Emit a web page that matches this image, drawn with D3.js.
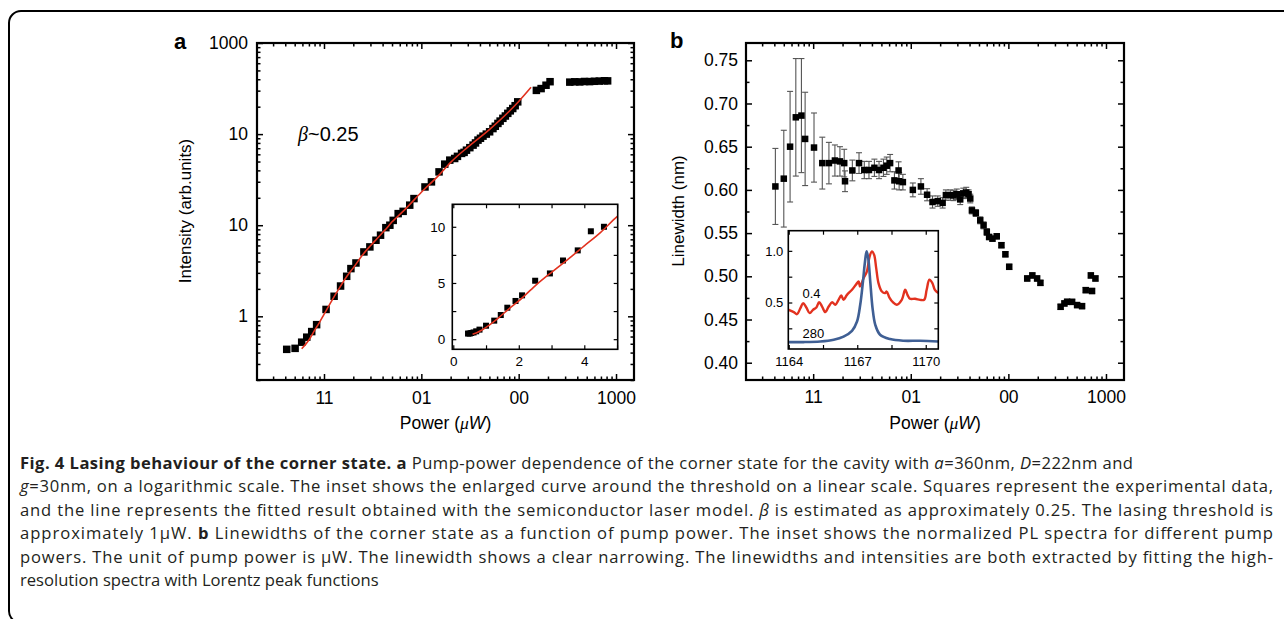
<!DOCTYPE html>
<html><head><meta charset="utf-8">
<script src="https://cdn.jsdelivr.net/npm/d3@7"></script>
<style>body{margin:0;background:#fff}svg{display:block}</style>
</head><body>
<svg id="c" width="1284" height="619"></svg>
<script>
// ---------------- DATA ----------------
// Panel a: pump power (µW) vs intensity (arb. units)
const powerA = [0.414,0.505,0.59,0.665,0.748,0.84,1.05,1.27,1.48,1.71,1.89,2.13,2.57,2.96,3.42,3.81,4.32,4.75,5.14,5.78,6.5,7.6,8.4,10.9,12.7,15.2,17.4,19.6,22.0,23.5,25.9,27.5,29.1,31.5,34.0,36.0,38.2,40.5,43.0,46.5,50.3,54.4,57.5,61.2,64.5,68.8,73,77.3,82,86.9,92,97.8,152,170,191,210,335,377,424,475,535,600,673,760,820];
const intensityA = [0.434,0.445,0.52,0.59,0.68,0.81,1.19,1.66,2.15,2.75,3.34,3.85,5.09,5.78,6.84,7.77,9.4,10.0,11.3,13.4,14.2,16.6,19.6,26.3,29.9,38.5,46.8,51.8,54,57,61.4,63,66.6,71,75.7,80,85.9,90,95,100,106,115,122,131,139,149,158,169,180,191,205,226,302,316,344,376,372,375,374,378,377,380,382,385,384];
// fitted semiconductor-laser model curve
const fitPower = [0.59,0.7,0.8,0.9,1.0,1.2,1.4,1.7,2.0,2.5,3.0,3.5,4.0,4.5,5.0,5.5,7,10,15,20,30,50,80,100,134];
const fitIntensity = [0.44,0.55,0.7,0.86,1.05,1.48,1.95,2.7,3.4,4.75,5.95,7.1,8.3,9.5,10.9,12.0,15.4,23,35,49,72,112,178,228,326];
// inset a (linear scale)
const insetPower = [0.45,0.5,0.55,0.62,0.7,0.8,1.0,1.25,1.45,1.65,1.9,2.1,2.5,2.95,3.35,3.8,4.2,4.6];
const insetIntensity = [0.5,0.5,0.55,0.6,0.7,0.85,1.2,1.65,2.15,2.8,3.4,3.9,5.2,5.85,7.0,7.9,9.6,10.0];

// Panel b: pump power (µW) vs linewidth (nm) with error
const powerB = [0.41,0.50,0.58,0.664,0.758,0.827,1.02,1.24,1.45,1.67,1.88,2.08,2.12,2.52,2.95,3.34,3.73,4.24,4.73,5.25,5.67,6.14,6.8,7.5,7.6,8.3,10.5,12.7,14.7,16.7,18.9,21.2,22.9,25.4,27.4,29.6,32.1,34.5,37.0,39.1,40.7,42.3,46.4,51.5,55.7,60.1,63.5,68.7,76,84.9,93.2,102,156,176,197,213,343,375,400,450,506,569,620,700,720,780];
const linewidthB = [0.604,0.613,0.650,0.684,0.686,0.659,0.649,0.631,0.631,0.634,0.633,0.631,0.610,0.6225,0.631,0.623,0.623,0.6256,0.623,0.6256,0.628,0.631,0.611,0.6225,0.610,0.609,0.600,0.604,0.5944,0.586,0.587,0.585,0.594,0.594,0.5936,0.595,0.589,0.596,0.597,0.595,0.590,0.5763,0.5733,0.5648,0.559,0.5513,0.5455,0.5436,0.5463,0.536,0.5255,0.511,0.4975,0.501,0.4975,0.4924,0.4647,0.4686,0.4705,0.4704,0.4667,0.4655,0.484,0.501,0.483,0.4975];
const linewidthErr = [0.044,0.056,0.064,0.068,0.066,0.054,0.040,0.030,0.024,0.018,0.017,0.016,0.012,0.012,0.012,0.010,0.010,0.010,0.010,0.010,0.010,0.010,0.010,0.010,0.010,0.009,0.008,0.009,0.007,0.007,0.006,0.006,0.006,0.006,0.006,0.006,0.006,0.006,0.006,0.005,0.005,0.004,0.004,0.004,0.004,0.004,0.003,0.003,0.003,0.003,0.003,0.003,0.003,0.003,0.003,0.003,0.003,0.003,0.003,0.003,0.003,0.003,0.003,0.003,0.003,0.003];

// inset b: normalized PL spectra
const blueWl = [1163.98,1164.65,1165.38,1165.97,1166.4,1166.77,1166.99,1167.13,1167.25,1167.34,1167.41,1167.48,1167.57,1167.67,1167.79,1168.0,1168.44,1169.02,1169.75,1170.55];
const blueVal = [0.117,0.117,0.123,0.14,0.17,0.226,0.316,0.478,0.703,0.897,0.995,0.93,0.703,0.446,0.284,0.188,0.146,0.13,0.13,0.123];
const redWl = [1163.98,1164.22,1164.36,1164.51,1164.63,1164.77,1164.92,1165.06,1165.21,1165.33,1165.46,1165.6,1165.75,1165.9,1166.04,1166.18,1166.3,1166.4,1166.55,1166.77,1166.96,1167.06,1167.12,1167.28,1167.42,1167.54,1167.64,1167.74,1167.83,1167.93,1168.08,1168.22,1168.29,1168.41,1168.56,1168.73,1168.95,1169.1,1169.2,1169.31,1169.53,1169.75,1169.93,1170.04,1170.16,1170.29,1170.4,1170.55];
const redVal = [0.43,0.407,0.387,0.445,0.494,0.452,0.397,0.429,0.452,0.503,0.461,0.407,0.461,0.503,0.478,0.526,0.568,0.526,0.574,0.623,0.678,0.703,0.655,0.736,0.8,0.945,0.995,0.961,0.833,0.688,0.606,0.591,0.606,0.548,0.503,0.478,0.526,0.623,0.574,0.536,0.536,0.526,0.526,0.623,0.72,0.688,0.623,0.591];

// tick values / labels (as printed in the figure)
const xMajorTicks = [1,10,100,1000];
const xMajorLabels = ["11","01","00","1000"];
const yMajorTicksA = [1,10,100,1000];
const yMajorLabelsA = ["1","10","10","1000"];
const yMajorTicksB = [0.40,0.45,0.50,0.55,0.60,0.65,0.70,0.75];
const yMinorTicksB = [0.425,0.475,0.525,0.575,0.625,0.675,0.725];
const insetAXMajor = [0,2,4], insetAXMinor = [1,3,5];
const insetAYMajor = [0,5,10], insetAYMinor = [2.5,7.5];
const insetBXMajor = [1164,1167,1170], insetBXMinor = [1165.5,1168.5];
const insetBYMajor = [0.5,1.0], insetBYMinor = [0.25,0.75];
const insetBLabels = ["0.4","280"];

const captionLines = [
 [["Fig. 4 Lasing behaviour of the corner state.","b"],[" ",""],["a","b"],[" Pump-power dependence of the corner state for the cavity with ",""],["a","i"],["=360nm, ",""],["D","i"],["=222nm and",""]],
 [["g","i"],["=30nm, on a logarithmic scale. The inset shows the enlarged curve around the threshold on a linear scale. Squares represent the experimental data,",""]],
 [["and the line represents the fitted result obtained with the semiconductor laser model. ",""],["β","i"],[" is estimated as approximately 0.25. The lasing threshold is",""]],
 [["approximately 1μW. ",""],["b","b"],[" Linewidths of the corner state as a function of pump power. The inset shows the normalized PL spectra for different pump",""]],
 [["powers. The unit of pump power is μW. The linewidth shows a clear narrowing. The linewidths and intensities are both extracted by fitting the high-",""]],
 [["resolution spectra with Lorentz peak functions",""]]
];

// ---------------- DRAWING ----------------
const FONT = "'Liberation Sans', Arial, Helvetica, sans-serif";
const svg = d3.select("#c");

// outer rounded frame
svg.append("rect").attr("x",9).attr("y",11).attr("width",1320).attr("height",612)
  .attr("rx",12).attr("ry",12).attr("fill","none").attr("stroke","#000").attr("stroke-width",2);

function drawAxes(g, x, y, w, h, o) {
  const mk = (axisFn, scale, vals, size, fmt, pad, tr) => {
    const a = axisFn(scale).tickValues(vals).tickSizeInner(-size).tickSizeOuter(0).tickPadding(pad)
      .tickFormat(fmt || (() => ""));
    const gg = g.append("g").attr("transform", tr).call(a);
    gg.select(".domain").remove();
    gg.selectAll(".tick line").attr("stroke","#000").attr("stroke-width", o.tickW);
    gg.selectAll("text").attr("font-family",FONT).attr("font-size",o.fs).attr("fill","#000");
    return gg;
  };
  const xl = (d,i) => o.xLabels ? o.xLabels[i] : d;
  const yl = (d,i) => o.yLabels ? o.yLabels[i] : d;
  mk(d3.axisBottom, x, o.xMaj, o.maj, xl, o.xPad, `translate(0,${h})`);
  mk(d3.axisBottom, x, o.xMin, o.min, null, 0, `translate(0,${h})`);
  mk(d3.axisTop, x, o.xMaj, o.maj, null, 0, `translate(0,0)`);
  mk(d3.axisTop, x, o.xMin, o.min, null, 0, `translate(0,0)`);
  mk(d3.axisLeft, y, o.yMaj, o.maj, o.yFmt || yl, o.yPad, `translate(0,0)`);
  mk(d3.axisLeft, y, o.yMin, o.min, null, 0, `translate(0,0)`);
  mk(d3.axisRight, y, o.yMaj, o.maj, null, 0, `translate(${w},0)`);
  mk(d3.axisRight, y, o.yMin, o.min, null, 0, `translate(${w},0)`);
  g.append("rect").attr("width",w).attr("height",h).attr("fill","none")
    .attr("stroke","#000").attr("stroke-width",o.frameW);
}

function logMinor(scale, majors) {
  return scale.ticks().filter(v => !majors.some(m => Math.abs(m - v) / v < 1e-9));
}

function squares(g, x, y, xs, ys, s) {
  g.selectAll(null).data(xs).enter().append("rect")
    .attr("x", (d,i) => x(d) - s/2).attr("y", (d,i) => y(ys[i]) - s/2)
    .attr("width", s).attr("height", s).attr("fill", "#000");
}

// ===== Panel a =====
const A = {l:257, t:43, w:377, h:337};
const gA = svg.append("g").attr("transform",`translate(${A.l},${A.t})`);
const xA = d3.scaleLog().domain([0.205,1530]).range([0,A.w]);
const yA = d3.scaleLog().domain([0.2,1000]).range([A.h,0]);
gA.append("clipPath").attr("id","clipA").append("rect").attr("width",A.w).attr("height",A.h);
const dA = gA.append("g").attr("clip-path","url(#clipA)");
squares(dA, xA, yA, powerA, intensityA, 7.5);
dA.append("path").datum(fitPower.map((p,i)=>[p,fitIntensity[i]]))
  .attr("fill","none").attr("stroke","#e2321f").attr("stroke-width",1.6)
  .attr("d", d3.line().x(d=>xA(d[0])).y(d=>yA(d[1])).curve(d3.curveMonotoneX));
drawAxes(gA, xA, yA, A.w, A.h, {
  xMaj:xMajorTicks, xLabels:xMajorLabels, xMin:logMinor(xA,xMajorTicks),
  yMaj:yMajorTicksA, yLabels:yMajorLabelsA, yMin:logMinor(yA,yMajorTicksA),
  maj:6, min:3.5, fs:17.5, xPad:12, yPad:9, tickW:1.5, frameW:2.2
});
// beta annotation
const beta = gA.append("text").attr("x", 41).attr("y", 98).attr("font-family",FONT).attr("font-size",20);
beta.append("tspan").attr("font-family","'Liberation Serif','Times New Roman',serif").attr("font-style","italic").text("β");
beta.append("tspan").text("~0.25");

// inset a
const IA = {l:452.3, t:204.3, w:165.4, h:145};
const gIA = svg.append("g").attr("transform",`translate(${IA.l},${IA.t})`);
gIA.append("rect").attr("width",IA.w).attr("height",IA.h).attr("fill","#fff");
const xIA = d3.scaleLinear().domain([-0.03,5.02]).range([0,IA.w]);
const yIA = d3.scaleLinear().domain([-0.9,12]).range([IA.h,0]);
gIA.append("clipPath").attr("id","clipIA").append("rect").attr("width",IA.w).attr("height",IA.h);
const dIA = gIA.append("g").attr("clip-path","url(#clipIA)");
squares(dIA, xIA, yIA, insetPower, insetIntensity, 6);
dIA.append("path").datum(fitPower.map((p,i)=>[p,fitIntensity[i]]).filter(d=>d[0]<=7))
  .attr("fill","none").attr("stroke","#e2321f").attr("stroke-width",1.6)
  .attr("d", d3.line().x(d=>xIA(d[0])).y(d=>yIA(d[1])).curve(d3.curveMonotoneX));
drawAxes(gIA, xIA, yIA, IA.w, IA.h, {
  xMaj:insetAXMajor, xMin:insetAXMinor, yMaj:insetAYMajor, yMin:insetAYMinor,
  maj:4, min:4, fs:13.5, xPad:7, yPad:7, tickW:1.2, frameW:1.6
});

// ===== Panel b =====
const B = {l:746, t:43, w:378, h:337};
const gB = svg.append("g").attr("transform",`translate(${B.l},${B.t})`);
const xB = d3.scaleLog().domain([0.205,1530]).range([0,B.w]);
const yB = d3.scaleLinear().domain([0.38,0.77]).range([B.h,0]);
gB.append("clipPath").attr("id","clipB").append("rect").attr("width",B.w).attr("height",B.h);
const dB = gB.append("g").attr("clip-path","url(#clipB)");
const eb = dB.append("g").attr("stroke","#555").attr("stroke-width",1.1);
powerB.forEach((p,i) => {
  const cx = xB(p), y1 = yB(linewidthB[i] + linewidthErr[i]), y0 = yB(linewidthB[i] - linewidthErr[i]);
  eb.append("line").attr("x1",cx).attr("x2",cx).attr("y1",y1).attr("y2",y0);
  eb.append("line").attr("x1",cx-3).attr("x2",cx+3).attr("y1",y1).attr("y2",y1);
  eb.append("line").attr("x1",cx-3).attr("x2",cx+3).attr("y1",y0).attr("y2",y0);
});
squares(dB, xB, yB, powerB, linewidthB, 6.5);
drawAxes(gB, xB, yB, B.w, B.h, {
  xMaj:xMajorTicks, xLabels:xMajorLabels, xMin:logMinor(xB,xMajorTicks),
  yMaj:yMajorTicksB, yFmt:d3.format(".2f"), yMin:yMinorTicksB,
  maj:6, min:3.5, fs:17.5, xPad:11, yPad:8, tickW:1.5, frameW:2.2
});

// inset b
const IB = {l:788.3, t:230.7, w:150, h:118.3};
const gIB = svg.append("g").attr("transform",`translate(${IB.l},${IB.t})`);
gIB.append("rect").attr("width",IB.w).attr("height",IB.h).attr("fill","#fff");
const xIB = d3.scaleLinear().domain([1163.98,1170.55]).range([0,IB.w]);
const yIB = d3.scaleLinear().domain([0.05,1.195]).range([IB.h,0]);
gIB.append("clipPath").attr("id","clipIB").append("rect").attr("width",IB.w).attr("height",IB.h);
const dIB = gIB.append("g").attr("clip-path","url(#clipIB)");
const spec = d3.line().x(d=>xIB(d[0])).y(d=>yIB(d[1])).curve(d3.curveCatmullRom.alpha(0.5));
dIB.append("path").datum(redWl.map((w,i)=>[w,redVal[i]]))
  .attr("fill","none").attr("stroke","#e2321f").attr("stroke-width",2.4).attr("d",spec);
dIB.append("path").datum(blueWl.map((w,i)=>[w,blueVal[i]]))
  .attr("fill","none").attr("stroke","#3f5f94").attr("stroke-width",2.6).attr("d",spec);
drawAxes(gIB, xIB, yIB, IB.w, IB.h, {
  xMaj:insetBXMajor, xMin:insetBXMinor, yMaj:insetBYMajor, yFmt:d3.format(".1f"), yMin:insetBYMinor,
  maj:4, min:4, fs:13, xPad:8, yPad:5, tickW:1.2, frameW:1.6
});
gIB.append("text").attr("x", xIB(1164.6)).attr("y", yIB(0.545)).attr("font-family",FONT).attr("font-size",13).text(insetBLabels[0]);
gIB.append("text").attr("x", xIB(1164.6)).attr("y", yIB(0.115) - 4).attr("font-family",FONT).attr("font-size",13).text(insetBLabels[1]);

// axis titles
function powerTitle(cx) {
  const t = svg.append("text").attr("x",cx).attr("y",429).attr("text-anchor","middle")
    .attr("font-family",FONT).attr("font-size",17.5);
  t.append("tspan").text("Power (");
  t.append("tspan").attr("font-family","'Liberation Serif','Times New Roman',serif").attr("font-style","italic").text("μ");
  t.append("tspan").attr("font-style","italic").text("W");
  t.append("tspan").text(")");
}
powerTitle(A.l + A.w/2);
powerTitle(B.l + B.w/2);
svg.append("text").attr("transform","translate(191,211) rotate(-90)").attr("text-anchor","middle")
  .attr("font-family",FONT).attr("font-size",17).text("Intensity (arb.units)");
svg.append("text").attr("transform","translate(684,211) rotate(-90)").attr("text-anchor","middle")
  .attr("font-family",FONT).attr("font-size",17).text("Linewidth (nm)");
// panel letters
svg.append("text").attr("x",174).attr("y",49).attr("font-family",FONT).attr("font-weight","bold").attr("font-size",22).text("a");
svg.append("text").attr("x",670).attr("y",48).attr("font-family",FONT).attr("font-weight","bold").attr("font-size",22).text("b");

// caption
const capWidths = [1113,1253,1253,1253,1253,null];
captionLines.forEach((segs, li) => {
  const t = svg.append("text").attr("x",20).attr("y",469 + li*23.4)
    .attr("font-family","'Open Sans','Noto Sans',sans-serif").attr("font-size",16.6).attr("fill","#231f20")
    .attr("xml:space","preserve");
  if (capWidths[li]) t.attr("textLength",capWidths[li]).attr("lengthAdjust","spacing");
  segs.forEach(([txt, st]) => {
    const s = t.append("tspan").text(txt);
    if (st === "b") s.attr("font-weight","bold");
    if (st === "i") s.attr("font-style","italic");
  });
});
</script>
</body></html>
